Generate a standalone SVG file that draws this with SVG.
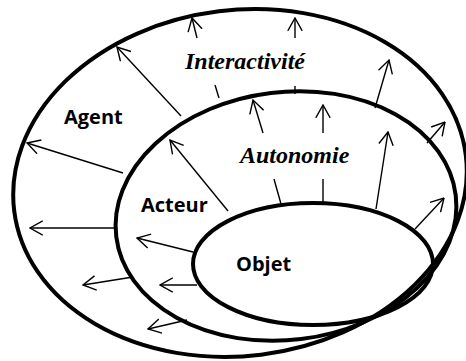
<svg xmlns="http://www.w3.org/2000/svg" width="466" height="361" viewBox="0 0 466 361">
<defs>
<style>
.ring{fill:none;stroke:#000;stroke-width:4}
.arr{fill:none;stroke:#000;stroke-width:1.4}
.lab{font-family:"Open Sans","Liberation Sans",sans-serif;font-weight:bold;font-size:20px;fill:#000}
.prop{font-family:"Liberation Serif","DejaVu Serif",serif;font-weight:bold;font-style:italic;font-size:24px;fill:#000}
</style>
<marker id="ah" viewBox="0 0 14 16" refX="13.3" refY="8" markerWidth="14" markerHeight="16" markerUnits="userSpaceOnUse" orient="auto">
<path d="M0.5,0.8 L13.3,8 L0.5,15.2" fill="none" stroke="#000" stroke-width="1.4"/>
</marker>
</defs>
<rect width="466" height="361" fill="#fff"/>
<g id="agent">
<ellipse class="ring" cx="240" cy="183" rx="227.5" ry="173" transform="rotate(-7 240 183)"/>
<text class="lab" x="64" y="124">Agent</text>
</g>
<g id="acteur">
<ellipse class="ring" cx="286" cy="216" rx="171" ry="124" transform="rotate(-7 286 216)"/>
<text class="lab" x="141" y="212">Acteur</text>
</g>
<g id="objet">
<ellipse class="ring" cx="313" cy="264" rx="120" ry="61"/>
<text class="lab" x="236" y="271">Objet</text>
</g>
<g id="interactivite">
<text class="prop" x="185" y="69" font-family="Liberation Serif, serif">Interactivité</text>
</g>
<g id="autonomie">
<text class="prop" x="240" y="163" font-family="Liberation Serif, serif">Autonomie</text>
</g>
<g id="connectors">
<line class="arr" x1="181" y1="116" x2="117" y2="47" marker-end="url(#ah)"/>
<line class="arr" x1="123" y1="173" x2="27" y2="143" marker-end="url(#ah)"/>
<line class="arr" x1="115" y1="228" x2="30" y2="228" marker-end="url(#ah)"/>
<line class="arr" x1="133" y1="277" x2="83" y2="285" marker-end="url(#ah)"/>
<line class="arr" x1="187" y1="320" x2="148" y2="329" marker-end="url(#ah)"/>
<line class="arr" x1="219" y1="98" x2="215" y2="85"/>
<line class="arr" x1="197" y1="38" x2="192" y2="18" marker-end="url(#ah)"/>
<line class="arr" x1="295" y1="94" x2="295" y2="86"/>
<line class="arr" x1="295" y1="38" x2="295" y2="18" marker-end="url(#ah)"/>
<line class="arr" x1="375" y1="108" x2="389" y2="60" marker-end="url(#ah)"/>
<line class="arr" x1="427" y1="143" x2="445" y2="122" marker-end="url(#ah)"/>
<line class="arr" x1="228" y1="211" x2="170" y2="140" marker-end="url(#ah)"/>
<line class="arr" x1="281" y1="204" x2="274" y2="179"/>
<line class="arr" x1="263" y1="133" x2="253" y2="100" marker-end="url(#ah)"/>
<line class="arr" x1="323" y1="203" x2="323" y2="179"/>
<line class="arr" x1="323" y1="133" x2="323" y2="105" marker-end="url(#ah)"/>
<line class="arr" x1="376" y1="209" x2="388" y2="132" marker-end="url(#ah)"/>
<line class="arr" x1="415" y1="229" x2="444" y2="198" marker-end="url(#ah)"/>
<line class="arr" x1="193" y1="252" x2="137" y2="238" marker-end="url(#ah)"/>
<line class="arr" x1="197" y1="285" x2="160" y2="285" marker-end="url(#ah)"/>
</g>
</svg>
